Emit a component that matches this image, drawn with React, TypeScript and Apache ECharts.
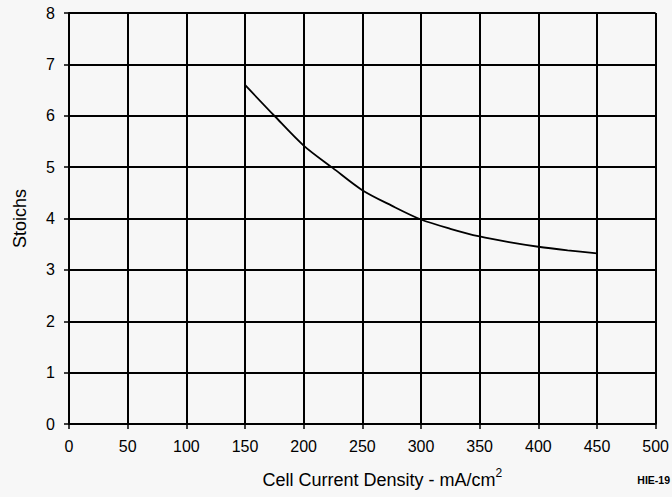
import React, { useEffect, useRef } from "react";
import * as echarts from "echarts";

const xValues = [150, 175, 200, 225, 250, 275, 300, 325, 350, 375, 400, 425, 450];
const stoichs = [6.6, 6.0, 5.42, 4.98, 4.55, 4.25, 3.98, 3.8, 3.65, 3.54, 3.45, 3.38, 3.32];

export default function App() {
  const ref = useRef<HTMLDivElement>(null);
  useEffect(() => {
    if (!ref.current) return;
    const chart = echarts.init(ref.current, undefined, { renderer: "svg" });
    const font = "'Liberation Sans', Arial, sans-serif";
    chart.setOption({
      animation: false,
      backgroundColor: "#f7f7f7",
      textStyle: { fontFamily: font },
      grid: { left: 69, right: 14, top: 13, bottom: 73, containLabel: false },
      xAxis: {
        type: "value",
        min: 0,
        max: 500,
        interval: 50,
        axisLine: { show: true, lineStyle: { color: "#000", width: 2 } },
        axisTick: { show: true, length: 5, lineStyle: { color: "#000", width: 1.5 } },
        axisLabel: { color: "#000", fontSize: 16, margin: 14, fontFamily: font },
        splitLine: { show: true, lineStyle: { color: "#000", width: 2 } },
        name: "{a|Cell Current Density - mA/cm}{s|2}",
        nameLocation: "middle",
        nameGap: 43,
        nameTextStyle: {
          padding: [0, 0, 0, 40],
          rich: {
            a: { fontSize: 18, color: "#000", fontFamily: font, verticalAlign: "bottom" },
            s: { fontSize: 12, color: "#000", fontFamily: font, verticalAlign: "top", padding: [0, 0, 10, 0] },
          },
        },
      },
      yAxis: {
        type: "value",
        min: 0,
        max: 8,
        interval: 1,
        axisLine: { show: true, lineStyle: { color: "#000", width: 2 } },
        axisTick: { show: true, length: 5, lineStyle: { color: "#000", width: 1.5 } },
        axisLabel: { color: "#000", fontSize: 16, margin: 14, fontFamily: font },
        splitLine: { show: true, lineStyle: { color: "#000", width: 2 } },
        name: "Stoichs",
        nameLocation: "middle",
        nameGap: 40,
        nameTextStyle: { fontSize: 18, color: "#000", fontFamily: font },
      },
      graphic: [
        {
          type: "text",
          right: 2,
          top: 474,
          style: { text: "HIE-19", fontSize: 10.5, fontWeight: "bold", fill: "#000", fontFamily: font },
        },
      ],
      series: [
        {
          type: "line",
          data: xValues.map((x, i) => [x, stoichs[i]]),
          smooth: 0.3,
          showSymbol: false,
          lineStyle: { color: "#000", width: 1.8 },
        },
      ],
    });
    return () => chart.dispose();
  }, []);
  return <div ref={ref} style={{ width: 672, height: 497, position: "absolute", left: 0, top: 0 }} />;
}
